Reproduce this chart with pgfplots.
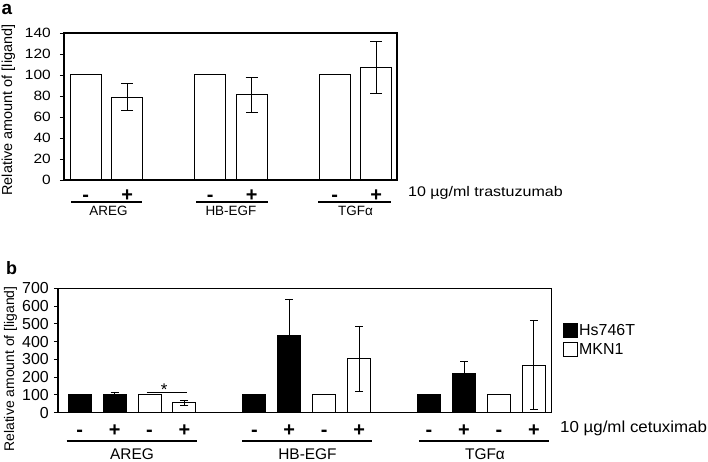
\documentclass[border=0pt]{standalone}
\usepackage{fontspec}
\usepackage{pgfplots}
\usepackage{pgfplotstable}
\pgfplotsset{compat=1.18}
\setmainfont{Liberation Sans}
\newfontfamily\fN{Liberation Sans}
\newfontfamily\fA[FakeStretch=1.15]{Liberation Sans}
\newfontfamily\fB[FakeStretch=1.06]{Liberation Sans}

% panel a: untreated (-) and trastuzumab (+)
\pgfplotstableread{
x y
0 100
3 100
6 100
}\dataAminus
\pgfplotstableread{
x y e
1 79 12.5
4 81 17
7 107 24.5
}\dataAplus

% panel b
\pgfplotstableread{
x y
0 100
5 100
10 100
}\dataHsminus
\pgfplotstableread{
x y e
1 100 12
6 432 208
11 222 68
}\dataHsplus
\pgfplotstableread{
x y
2 100
7 100
12 100
}\dataMKminus
\pgfplotstableread{
x y e
3 56 15
8 305 183
13 268 249.5
}\dataMKplus

\begin{document}
\begin{tikzpicture}
\useasboundingbox (0,0) rectangle (708bp,462bp);

% ---------- panel a ----------
\begin{axis}[
  at={(64bp,282bp)}, anchor=south west,
  scale only axis, width=333bp, height=147bp,
  xmin=-0.52, xmax=7.5, ymin=0, ymax=140,
  ytick={0,20,...,140}, ytick pos=left,
  xtick={0,1,3,4,6,7}, xticklabels={-,+,-,+,-,+},
  x tick style={draw=none},
  y tick style={black, line width=0.9pt},
  tick align=outside, major tick length=4bp,
  axis line style={line width=1.2pt},
  /pgf/number format/assume math mode=true,
  yticklabel style={font=\fA\fontsize{13.5}{15}\selectfont, anchor=east, inner sep=0pt, xshift=-9bp},
  xticklabel style={font=\fN\bfseries\fontsize{20}{22}\selectfont, anchor=base, inner sep=0pt, yshift=-17.6bp},
  clip=false,
]
\addplot[ybar, bar shift=0pt, bar width=31bp, fill=white, draw=black, line width=1pt]
  table[x=x, y=y] {\dataAminus};
\addplot[ybar, bar shift=0pt, bar width=31bp, fill=white, draw=black, line width=1pt,
  error bars/.cd, y dir=both, y explicit,
  error bar style={line width=0.9pt, black},
  error mark options={rotate=90, mark size=6bp, line width=0.9pt, black}]
  table[x=x, y=y, y error=e] {\dataAplus};
\draw[line width=1.8bp] (axis cs:-0.35,-20.95) -- (axis cs:1.36,-20.95);
\draw[line width=1.8bp] (axis cs:2.66,-20.95) -- (axis cs:4.40,-20.95);
\draw[line width=1.8bp] (axis cs:5.60,-20.95) -- (axis cs:7.36,-20.95);
\node[font=\fN\fontsize{13.5}{15}\selectfont] at (axis cs:0.55,-29.5) {AREG};
\node[font=\fN\fontsize{13.5}{15}\selectfont] at (axis cs:3.5,-29.5) {HB-EGF};
\node[font=\fN\fontsize{13.5}{15}\selectfont] at (axis cs:6.5,-29.5) {TGFα};
\end{axis}

% ---------- panel b ----------
\begin{axis}[
  at={(58bp,49.3bp)}, anchor=south west,
  scale only axis, width=493.7bp, height=124.4bp,
  xmin=-0.62, xmax=13.51, ymin=0, ymax=700,
  ytick={0,100,...,700}, ytick pos=left,
  xtick={0,1,2,3,5,6,7,8,10,11,12,13},
  xticklabels={-,+,-,+,-,+,-,+,-,+,-,+},
  x tick style={draw=none},
  y tick style={black, line width=0.9pt},
  tick align=outside, major tick length=4bp,
  axis line style={line width=1.2pt},
  /pgf/number format/assume math mode=true,
  yticklabel style={font=\fN\fontsize{16}{18}\selectfont, anchor=east, inner sep=0pt, xshift=-5bp},
  xticklabel style={font=\fN\bfseries\fontsize{20}{22}\selectfont, anchor=base, inner sep=0pt, yshift=-19.9bp},
  clip=false,
  legend style={at={(axis description cs:1,1)}, anchor=north west,
    xshift=11.3bp, yshift=-34.4bp, draw=none, fill=none, inner sep=0pt,
    row sep=4bp, font=\fN\fontsize{16}{18}\selectfont,
    nodes={inner sep=1bp}},
  legend cell align=left,
]
\addplot[forget plot, ybar, bar shift=0pt, bar width=23bp, fill=black, draw=black, line width=1pt]
  table[x=x, y=y] {\dataHsminus};
\addplot[forget plot, ybar, bar shift=0pt, bar width=23bp, fill=black, draw=black, line width=1pt,
  error bars/.cd, y dir=both, y explicit,
  error bar style={line width=0.9pt, black},
  error mark options={rotate=90, mark size=4bp, line width=0.9pt, black}]
  table[x=x, y=y, y error=e] {\dataHsplus};
\addplot[forget plot, ybar, bar shift=0pt, bar width=23bp, fill=white, draw=black, line width=1pt]
  table[x=x, y=y] {\dataMKminus};
\addplot[forget plot, ybar, bar shift=0pt, bar width=23bp, fill=white, draw=black, line width=1pt,
  error bars/.cd, y dir=both, y explicit,
  error bar style={line width=0.9pt, black},
  error mark options={rotate=90, mark size=4bp, line width=0.9pt, black}]
  table[x=x, y=y, y error=e] {\dataMKplus};
\addlegendimage{legend image code/.code={\draw[fill=black, draw=black, line width=1pt] (0bp,-7bp) rectangle (14bp,7bp);}}
\addlegendentry{Hs746T}
\addlegendimage{legend image code/.code={\draw[fill=white, draw=black, line width=1pt] (0bp,-7bp) rectangle (14bp,7bp);}}
\addlegendentry{MKN1}
\draw[line width=0.9pt] (axis cs:1.92,115) -- (axis cs:3.06,115);
\node[font=\fN\fontsize{17}{19}\selectfont, anchor=base, inner sep=0pt] at (axis cs:2.42,97) {*};
\draw[line width=1.8bp] (axis cs:-0.37,-159) -- (axis cs:3.35,-159);
\draw[line width=1.8bp] (axis cs:4.66,-159) -- (axis cs:8.36,-159);
\draw[line width=1.8bp] (axis cs:9.71,-159) -- (axis cs:13.43,-159);
\node[font=\fN\fontsize{15.5}{17}\selectfont] at (axis cs:1.5,-233) {AREG};
\node[font=\fN\fontsize{15.5}{17}\selectfont] at (axis cs:6.52,-233) {HB-EGF};
\node[font=\fN\fontsize{15.5}{17}\selectfont] at (axis cs:11.6,-233) {TGFα};
\end{axis}

% ---------- free text ----------
\node[font=\fN\bfseries\fontsize{19}{21}\selectfont, inner sep=0pt] at (7bp,452.5bp) {a};
\node[font=\fN\bfseries\fontsize{18}{20}\selectfont, inner sep=0pt] at (11.5bp,193.5bp) {b};
\node[font=\fN\fontsize{14.5}{16}\selectfont, rotate=90, inner sep=0pt] at (8.5bp,352bp) {Relative amount of [ligand]};
\node[font=\fN\fontsize{14}{16}\selectfont, rotate=90, inner sep=0pt] at (10.5bp,93bp) {Relative amount of [ligand]};
\node[font=\fA\fontsize{14}{16}\selectfont, anchor=west, inner sep=0pt] at (408bp,269bp) {10 µg/ml trastuzumab};
\node[font=\fB\fontsize{16}{18}\selectfont, anchor=west, inner sep=0pt] at (560bp,34bp) {10 µg/ml cetuximab};
\end{tikzpicture}
\end{document}
